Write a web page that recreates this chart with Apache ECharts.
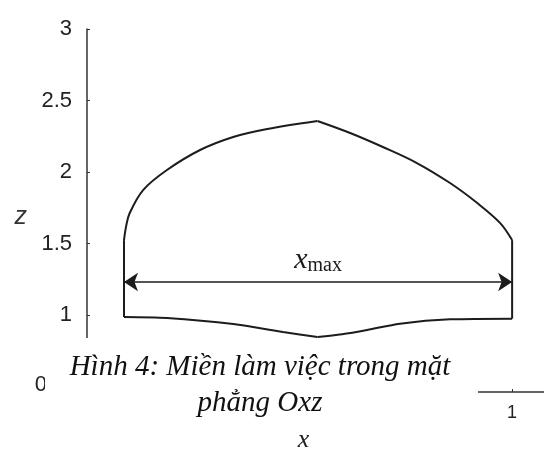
<!DOCTYPE html>
<html>
<head>
<meta charset="utf-8">
<script src="https://cdn.jsdelivr.net/npm/echarts@6/dist/echarts.min.js"></script>
<style>
  html, body { margin: 0; padding: 0; background: #fff; }
  #chart { width: 544px; height: 451px; }
</style>
</head>
<body>
<div id="chart"></div>
<script>
// Workspace boundary in the Oxz plane, as (x, z) points
const upperLeft = [[0.087, 1.524], [0.092, 1.62], [0.100, 1.71], [0.132, 1.874], [0.188, 2.014],
                   [0.266, 2.154], [0.344, 2.245], [0.424, 2.301], [0.542, 2.357]];
const upperRight = [[0.542, 2.357], [0.619, 2.273], [0.696, 2.175], [0.776, 2.063], [0.854, 1.923],
                    [0.918, 1.783], [0.972, 1.643], [1.0, 1.524]];
const leftSide = [[0.087, 0.986], [0.087, 1.524]];
const rightSide = [[1.0, 0.975], [1.0, 1.524]];
const lowerLeft = [[0.087, 0.986], [0.188, 0.979], [0.344, 0.937], [0.461, 0.881], [0.542, 0.846]];
const lowerRight = [[0.542, 0.846], [0.600, 0.865], [0.659, 0.895], [0.736, 0.940], [0.854, 0.970], [1.0, 0.975]];

// Width of the workspace at its widest level
const xmaxSpan = [[0.087, 1.231], [1.0, 1.231]];

// Axis tick labels
const zTickLabels = [0, 1, 1.5, 2, 2.5, 3];
const xTickLabels = [1];

const caption = 'Hình 4: Miền làm việc trong mặt\nphẳng Oxz';

const ink = '#1c1c1c';
const boundaryStyle = { color: ink, width: 2 };

function boundary(data, smooth) {
  return {
    type: 'line', data: data, smooth: smooth, showSymbol: false, symbol: 'none',
    lineStyle: boundaryStyle, silent: true, z: 3
  };
}

function near(v, list) {
  return list.some(t => Math.abs(t - v) < 1e-6);
}

const chart = echarts.init(document.getElementById('chart'), null, { renderer: 'canvas' });

chart.setOption({
  animation: false,
  backgroundColor: '#fff',
  textStyle: { fontFamily: '"Liberation Sans", Arial, sans-serif' },
  grid: { left: 87, right: 0, top: 29, bottom: 59, containLabel: false, outerBoundsMode: 'none' },
  xAxis: {
    type: 'value', min: 0, max: 1.075, interval: 1,
    axisLine: { show: true, lineStyle: { color: '#333', width: 1.5 } },
    axisTick: { show: true, inside: true, length: 3, lineStyle: { color: '#333' } },
    splitLine: { show: false },
    axisLabel: {
      fontSize: 18, color: '#222', margin: 12, showMaxLabel: false,
      formatter: v => (near(v, xTickLabels) ? String(v) : '')
    },
    name: 'x', nameLocation: 'middle', nameGap: 30,
    nameTextStyle: {
      fontFamily: '"Liberation Serif", serif', fontStyle: 'italic', fontSize: 26,
      color: '#222', padding: [0, 24, 0, 0]
    }
  },
  yAxis: {
    type: 'value', min: 0, max: 3, interval: 0.5,
    // the stretch between 0 and 0.5 is collapsed
    breaks: [{ start: 0, end: 0.5, gap: 0.038 }],
    breakArea: { show: false },
    axisLine: { show: true, lineStyle: { color: '#333', width: 1.5 } },
    axisTick: { show: true, inside: true, length: 3, lineStyle: { color: '#333' } },
    splitLine: { show: false },
    axisLabel: {
      fontSize: 22, color: '#222', margin: 15, showMinLabel: true,
      formatter: v => {
        if (Math.abs(v) < 1e-6) return '{o|0}';
        return near(v, zTickLabels) ? String(v) : '';
      },
      rich: { o: { fontSize: 22, color: '#222', padding: [0, 25, 14, 0] } }
    },
    name: '{n|z}', nameLocation: 'middle', nameGap: 60, nameRotate: 0,
    nameTextStyle: {
      rich: {
        n: {
          fontFamily: '"Liberation Sans", sans-serif', fontStyle: 'italic', fontSize: 25,
          color: '#333', padding: [14, 0, 0, 0]
        }
      }
    }
  },
  series: [
    boundary(upperLeft, 0.35),
    boundary(upperRight, 0.35),
    boundary(leftSide, false),
    boundary(rightSide, false),
    boundary(lowerLeft, 0.3),
    boundary(lowerRight, 0.3),
    {
      type: 'lines', coordinateSystem: 'cartesian2d', z: 4, silent: true,
      symbol: ['arrow', 'arrow'], symbolSize: 14,
      lineStyle: { color: ink, width: 1.5, opacity: 1, curveness: 0 },
      label: {
        show: true, position: 'middle', distance: 6,
        formatter: '{x|x}{s|max}',
        rich: {
          x: { fontFamily: '"Liberation Serif", serif', fontStyle: 'italic', fontSize: 30, color: ink },
          s: { fontFamily: '"Liberation Serif", serif', fontSize: 20, color: ink, verticalAlign: 'bottom', padding: [12, 0, 0, 0] }
        }
      },
      data: [{ coords: xmaxSpan }]
    }
  ],
  graphic: {
    z: 100,
    elements: [
      { type: 'rect', z: 100, shape: { x: 45, y: 338, width: 433, height: 90 }, style: { fill: '#fff' } },
      {
        type: 'text', z: 101, x: 260, y: 385,
        style: {
          text: caption, fill: '#111', align: 'center', verticalAlign: 'middle',
          fontFamily: '"Liberation Serif", serif', fontStyle: 'italic', fontSize: 29, lineHeight: 36
        }
      }
    ]
  }
});
</script>
</body>
</html>
